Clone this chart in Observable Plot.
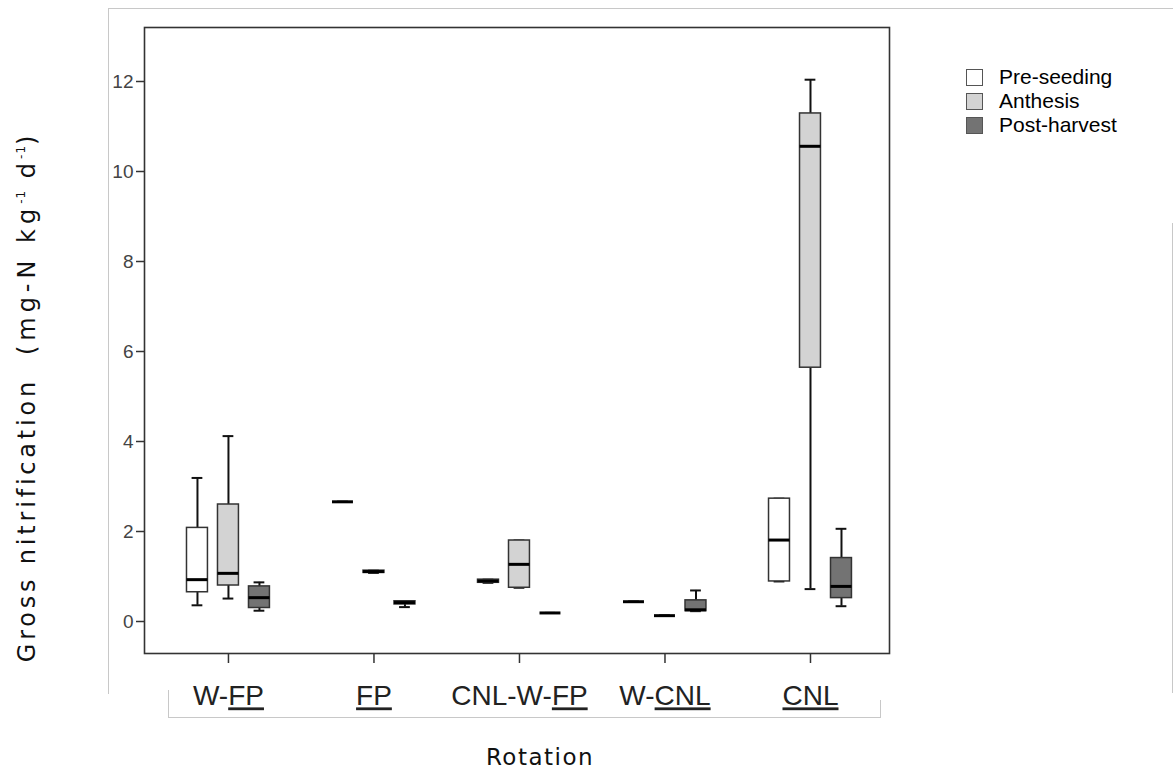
<!DOCTYPE html>
<html><head><meta charset="utf-8">
<script src="https://cdn.jsdelivr.net/npm/d3@7"></script>
<script src="https://cdn.jsdelivr.net/npm/@observablehq/plot@0.6"></script>
<style>
body{margin:0;background:#fff;}
#wrap{position:relative;width:1173px;height:770px;overflow:hidden;font-family:"Liberation Sans",Arial,sans-serif;}
#wrap svg{position:absolute;left:0;top:0;}
.gl{position:absolute;background:#c8c8c8;}
#legend{position:absolute;left:966px;top:65px;font-size:21px;color:#000;}
#legend .row{display:flex;align-items:center;height:24px;}
#legend .sw{width:17px;height:17px;border:1px solid #555;box-sizing:border-box;margin-right:16px;}
</style></head><body><div id="wrap"></div>
<script>
const rotations = ["W-FP","FP","CNL-W-FP","W-CNL","CNL"];
const rotationPrefix = ["W-","","CNL-W-","W-",""];
const rotationUnderlined = ["FP","FP","FP","CNL","CNL"];
const seasons = ["Pre-seeding","Anthesis","Post-harvest"];
const seasonColors = ["#ffffff","#d3d3d3","#737373"];

const boxRotation = ["W-FP","W-FP","W-FP","FP","FP","FP","CNL-W-FP","CNL-W-FP","CNL-W-FP","W-CNL","W-CNL","W-CNL","CNL","CNL","CNL"];
const boxSeason   = ["Pre-seeding","Anthesis","Post-harvest","Pre-seeding","Anthesis","Post-harvest","Pre-seeding","Anthesis","Post-harvest","Pre-seeding","Anthesis","Post-harvest","Pre-seeding","Anthesis","Post-harvest"];
const whiskerLow  = [0.36,0.51,0.24, 2.66,1.08,0.32, 0.86,0.75,0.19, 0.44,0.13,0.23, 0.89,0.72,0.34];
const quart1      = [0.65,0.80,0.30, 2.66,1.08,0.38, 0.86,0.75,0.19, 0.44,0.13,0.23, 0.89,5.64,0.52];
const medians     = [0.93,1.07,0.53, 2.66,1.11,0.42, 0.90,1.27,0.19, 0.44,0.13,0.26, 1.81,10.56,0.78];
const quart3      = [2.08,2.60,0.78, 2.66,1.13,0.45, 0.93,1.80,0.19, 0.44,0.13,0.47, 2.73,11.29,1.41];
const whiskerHigh = [3.19,4.12,0.87, 2.66,1.13,0.45, 0.93,1.80,0.19, 0.44,0.13,0.69, 2.73,12.04,2.06];
const yTicks = [0,2,4,6,8,10,12];

const groupOffset = 0.213, halfBox = 0.072, halfCap = 0.037;
const rows = boxRotation.map((r,i)=>({
  rotation:r, season:boxSeason[i],
  x: rotations.indexOf(r) + (seasons.indexOf(boxSeason[i])-1)*groupOffset,
  low:whiskerLow[i], q1:quart1[i], med:medians[i], q3:quart3[i], high:whiskerHigh[i]
}));

const plot = Plot.plot({
  width:1173, height:770,
  marginLeft:144, marginRight:284, marginTop:27, marginBottom:117,
  style:{fontFamily:'"Liberation Sans",Arial,sans-serif', background:"transparent", color:"#222"},
  x:{type:"linear", domain:[-0.577,4.543], axis:null},
  y:{domain:[-0.711,13.2], axis:null},
  color:{domain:seasons, range:seasonColors},
  marks:[
    Plot.ruleX(rows,{x:"x", y1:"low", y2:"high", stroke:"#111", strokeWidth:2}),
    Plot.ruleY(rows,{y:"low", x1:d=>d.x-halfCap, x2:d=>d.x+halfCap, stroke:"#111", strokeWidth:2}),
    Plot.ruleY(rows,{y:"high", x1:d=>d.x-halfCap, x2:d=>d.x+halfCap, stroke:"#111", strokeWidth:2}),
    Plot.rectY(rows,{x1:d=>d.x-halfBox, x2:d=>d.x+halfBox, y1:"q1", y2:"q3", fill:"season", stroke:"#333", strokeWidth:1.5}),
    Plot.ruleY(rows,{y:"med", x1:d=>d.x-halfBox, x2:d=>d.x+halfBox, stroke:"#000", strokeWidth:3}),
    Plot.frame({stroke:"#333", strokeWidth:1.6}),
    Plot.axisY({ticks:yTicks, tickSize:8, tickPadding:3, fontSize:19, label:null, stroke:"#333", strokeWidth:1.5, fill:"#444"}),
    Plot.axisX({ticks:[0,1,2,3,4], tickFormat:i=>rotations[i], tickSize:10, tickPadding:22, fontSize:28, label:null, stroke:"#333", strokeWidth:1.5, fill:"#222"})
  ]
});

const wrap = document.getElementById("wrap");
// decorative light borders (output frame)
[[108,8,1065,1],[108,8,1,686],[1172,223,1,470],[168,717,712,1],[168,690,1,28],[880,700,1,18]].forEach(([l,t,w,h])=>{
  const d=document.createElement("div"); d.className="gl";
  Object.assign(d.style,{left:l+"px",top:t+"px",width:w+"px",height:h+"px"}); wrap.appendChild(d);
});
wrap.appendChild(plot);

// underline parts of x tick labels
const svg = d3.select(plot.tagName==="svg"?plot:plot.querySelector("svg"));
svg.selectAll('g[aria-label="x-axis tick label"] text').each(function(){
  const t = d3.select(this);
  const idx = rotations.indexOf(t.text());
  if (idx<0) return;
  t.text(null);
  if (rotationPrefix[idx]) t.append("tspan").text(rotationPrefix[idx]);
  t.append("tspan").style("text-decoration","underline").text(rotationUnderlined[idx]);
});

// axis titles
const yt = svg.append("text")
  .attr("transform","translate(35,397) rotate(-90)")
  .attr("text-anchor","middle")
  .style("font-family",'"DejaVu Sans",Verdana,sans-serif')
  .style("font-size","24px").style("letter-spacing","3.8px").attr("fill","#111");
yt.append("tspan").text("Gross nitrification  ");
yt.append("tspan").style("letter-spacing","5px").text("(mg-N kg");
yt.append("tspan").attr("font-size","12px").style("letter-spacing","1px").attr("dy","-10").text("-1");
yt.append("tspan").attr("dy","10").style("letter-spacing","4px").text(" d");
yt.append("tspan").attr("font-size","12px").style("letter-spacing","1px").attr("dy","-10").text("-1");
yt.append("tspan").attr("dy","10").text(")");

svg.append("text").attr("x",540).attr("y",765).attr("text-anchor","middle")
  .style("font-family",'"DejaVu Sans",Verdana,sans-serif')
  .style("font-size","23px").style("letter-spacing","1.5px").attr("fill","#111").text("Rotation");

// legend
const lg = document.createElement("div"); lg.id="legend";
seasons.forEach((s,i)=>{
  const r=document.createElement("div"); r.className="row";
  const sw=document.createElement("div"); sw.className="sw"; sw.style.background=seasonColors[i];
  const tx=document.createElement("span"); tx.textContent=s;
  r.appendChild(sw); r.appendChild(tx); lg.appendChild(r);
});
wrap.appendChild(lg);
</script></body></html>
